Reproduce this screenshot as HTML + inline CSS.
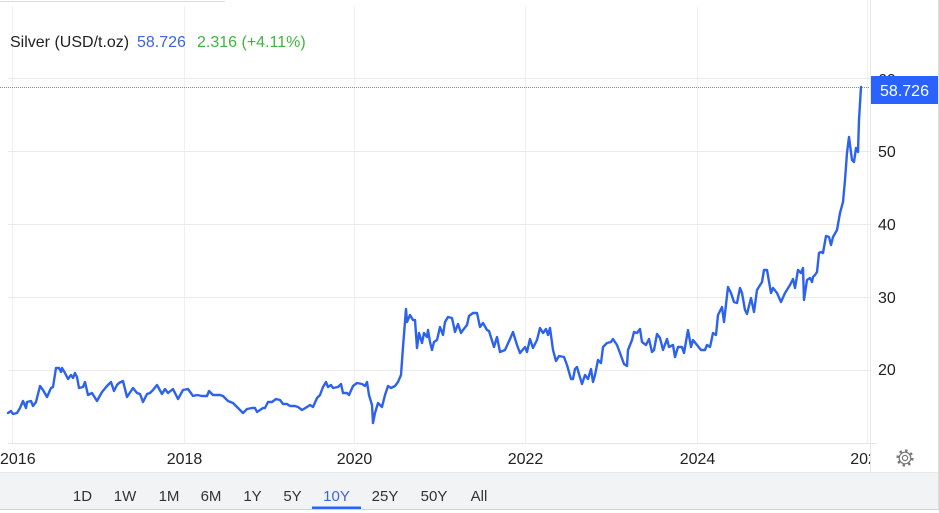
<!DOCTYPE html>
<html>
<head>
<meta charset="utf-8">
<style>
  html,body{margin:0;padding:0;background:#fff;}
  body{width:939px;height:513px;overflow:hidden;position:relative;font-family:"Liberation Sans",Arial,sans-serif;}
  svg{position:absolute;left:0;top:0;}
  text{font-family:"Liberation Sans",Arial,sans-serif;}
</style>
</head>
<body>
<svg width="939" height="513" viewBox="0 0 939 513" xmlns="http://www.w3.org/2000/svg">
  <defs>
    <clipPath id="xclip"><rect x="0" y="443" width="870" height="30"/></clipPath>
  </defs>
  <rect x="0" y="0" width="939" height="513" fill="#ffffff"/>
  <line x1="0" y1="1.5" x2="225" y2="1.5" stroke="#dcdcdc" stroke-width="1"/>

  <g stroke="#eef0f3" stroke-width="1">
    <line x1="12.5" y1="6" x2="12.5" y2="443"/>
    <line x1="184.5" y1="6" x2="184.5" y2="443"/>
    <line x1="354.5" y1="6" x2="354.5" y2="443"/>
    <line x1="525.5" y1="6" x2="525.5" y2="443"/>
    <line x1="697.5" y1="6" x2="697.5" y2="443"/>
    <line x1="867.5" y1="0" x2="867.5" y2="443"/>
  </g>
  <g stroke="#e9eaec" stroke-width="1">
    <line x1="8" y1="78.5" x2="870" y2="78.5"/>
    <line x1="8" y1="151.5" x2="870" y2="151.5"/>
    <line x1="8" y1="224.5" x2="870" y2="224.5"/>
    <line x1="8" y1="297.5" x2="870" y2="297.5"/>
    <line x1="8" y1="370.5" x2="870" y2="370.5"/>
  </g>
  <line x1="8" y1="443.5" x2="876" y2="443.5" stroke="#e3e4e6" stroke-width="1"/>
  <line x1="870.5" y1="0" x2="870.5" y2="472" stroke="#e6e7e9" stroke-width="1"/>
  <line x1="938.5" y1="0" x2="938.5" y2="510" stroke="#dddddd" stroke-width="1"/>

  <text x="10" y="47" font-size="16" fill="#222">Silver (USD/t.oz)</text>
  <text x="137" y="47" font-size="16" fill="#3d64dd">58.726</text>
  <text x="197" y="47" font-size="16" fill="#3fb540">2.316 (+4.11%)</text>

  <line x1="0" y1="87.5" x2="870" y2="87.5" stroke="#6f8cec" stroke-width="1" stroke-dasharray="1,1"/>

  <polyline fill="none" stroke="#2c62ec" stroke-width="2.4" stroke-linejoin="round" stroke-linecap="round"
    points="8,413 11,411 13,414 17,413 20,408 23,401 26,408 27,402 31,401 33,406 36,402 40,386 43,390 47,397 51,388 53,387 56,368 59,368 61,372 62,368 65,373 68,379 71,375 73,378 75,373 77,377 79,388 83,387 85,382 88,395 92,393 97,401 102,392 107,386 111,382 114,391 117,385 119,383 123,381 127,397 133,388 137,393 140,394 143,402 147,394 150,393 153,390 157,385 162,394 165,389 168,393 173,389 178,399 183,390 188,389 193,396 197,395 202,396 207,396 209,391 213,395 220,395 223,396 228,401 233,403 237,407 243,413 247,409 252,408 255,408 257,412 260,410 263,408 265,408 268,402 272,402 276,399 280,400 283,404 287,404 290,406 295,406 298,407 302,410 307,407 310,405 313,407 317,398 320,395 323,387 326,382 328,387 331,385 333,388 338,387 341,384 343,393 347,393 349,395 353,386 357,383 362,384 365,386 367,382 369,395 372,405 373,423 375,413 378,403 382,407 385,395 388,386 391,388 395,386 398,382 401,375 403,347 406,309 407,322 410,315 413,320 415,320 417,348 419,333 422,343 424,333 427,337 428,330 430,342 432,350 434,342 437,340 440,327 443,335 445,322 448,317 452,318 455,332 458,324 461,333 463,330 467,325 469,316 473,313 477,313 480,327 483,323 487,330 489,331 494,347 497,337 500,352 505,350 510,339 513,332 517,345 520,353 525,347 527,352 530,339 533,348 537,340 540,328 543,333 546,329 548,335 550,328 553,350 556,361 559,356 564,357 567,365 571,379 573,379 575,369 577,367 579,374 582,384 585,375 588,379 591,369 593,382 595,375 598,360 601,363 603,347 607,343 611,342 613,339 617,345 620,353 624,364 627,366 628,350 632,340 634,332 637,333 640,329 642,342 646,345 649,339 652,352 654,350 657,334 660,338 663,350 667,339 669,347 673,345 675,357 678,347 682,347 684,353 688,330 691,347 693,340 697,345 701,350 705,350 707,345 710,347 713,333 716,335 718,315 722,307 724,322 728,287 731,293 734,302 737,303 740,288 742,293 745,310 747,314 751,298 754,312 757,290 762,282 764,270 767,270 771,293 773,288 777,293 781,302 785,293 790,285 793,279 795,288 798,270 801,273 803,268 804,300 807,280 810,278 812,282 813,277 815,275 817,272 819,253 821,252 823,253 826,236 829,237 831,245 833,237 837,230 840,213 843,202 845,180 847,153 849,137 852,160 854,162 856,148 858,152 859,120 861,87"/>

  <g font-size="16" fill="#222">
    <text x="878" y="85">60</text>
    <text x="878" y="157">50</text>
    <text x="878" y="230">40</text>
    <text x="878" y="303">30</text>
    <text x="878" y="375">20</text>
  </g>
  <rect x="871" y="76" width="67" height="28" fill="#2962ff"/>
  <text x="904.5" y="96" font-size="16" fill="#ffffff" text-anchor="middle">58.726</text>

  <g font-size="16" fill="#222" clip-path="url(#xclip)">
    <text x="0" y="464">2016</text>
    <text x="184.5" y="464" text-anchor="middle">2018</text>
    <text x="354.5" y="464" text-anchor="middle">2020</text>
    <text x="525.5" y="464" text-anchor="middle">2022</text>
    <text x="697.5" y="464" text-anchor="middle">2024</text>
    <text x="868" y="464" text-anchor="middle">2026</text>
  </g>

  <g transform="translate(905,458)" fill="none" stroke="#777" stroke-width="1.2">
    <circle r="7.4" stroke-width="2.4" stroke-dasharray="2.4,3.4"/>
    <circle r="5.8"/>
    <circle r="2.6"/>
  </g>

  <rect x="0" y="472" width="938" height="37" fill="#f2f3f5"/>
  <line x1="0" y1="472.5" x2="938" y2="472.5" stroke="#e8e9eb" stroke-width="1"/>
  <line x1="0" y1="509.5" x2="939" y2="509.5" stroke="#d4d4d4" stroke-width="1"/>
  <g font-size="15" fill="#333" text-anchor="middle">
    <text x="82.5" y="501">1D</text>
    <text x="125" y="501">1W</text>
    <text x="169" y="501">1M</text>
    <text x="211" y="501">6M</text>
    <text x="252.5" y="501">1Y</text>
    <text x="292.5" y="501">5Y</text>
    <text x="336.5" y="501" fill="#3d64dd">10Y</text>
    <text x="385" y="501">25Y</text>
    <text x="434" y="501">50Y</text>
    <text x="479" y="501">All</text>
  </g>
  <rect x="312" y="506.5" width="49" height="2.5" fill="#2962ff"/>
</svg>
</body>
</html>
